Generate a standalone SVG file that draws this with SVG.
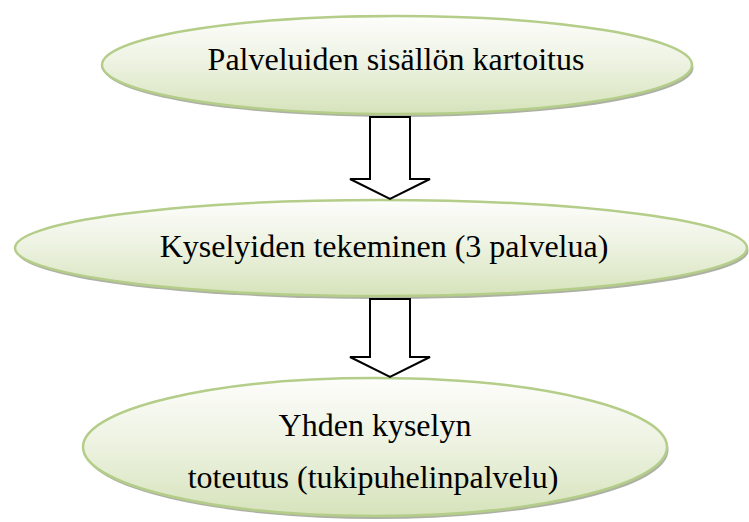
<svg xmlns="http://www.w3.org/2000/svg" width="749" height="522" viewBox="0 0 749 522">
<style>
.shadow{fill:#9fa394;opacity:0.85}
.node{fill:url(#g);stroke:#b4cd89;stroke-width:2.5}
.lbl{font-family:"Liberation Serif","Times New Roman",serif;font-size:32px;fill:#000;text-anchor:middle}
.arrow{fill:#fff;stroke:#000;stroke-width:2;stroke-linejoin:miter}
</style>
<defs>
<linearGradient id="g" x1="0" y1="0" x2="0" y2="1">
<stop offset="0" stop-color="#fdfdfb"/>
<stop offset="0.45" stop-color="#eef3e3"/>
<stop offset="1" stop-color="#d6e3bb"/>
</linearGradient>
</defs>
<rect width="749" height="522" fill="#fff"/>
<g id="node1">
<ellipse class="shadow" cx="398.5" cy="68" rx="295" ry="49"/>
<ellipse class="node" cx="397" cy="65" rx="295" ry="49"/>
<text class="lbl" x="396" y="70">Palveluiden sisällön kartoitus</text>
</g>
<g id="node2">
<ellipse class="shadow" cx="382.5" cy="251" rx="366" ry="48"/>
<ellipse class="node" cx="381" cy="248" rx="366" ry="48"/>
<text class="lbl" x="384" y="257">Kyselyiden tekeminen (3 palvelua)</text>
</g>
<g id="node3">
<ellipse class="shadow" cx="376.5" cy="450" rx="292" ry="69"/>
<ellipse class="node" cx="375" cy="447" rx="292" ry="69"/>
<text class="lbl" x="375" y="436">Yhden kyselyn</text>
<text class="lbl" x="373" y="488">toteutus (tukipuhelinpalvelu)</text>
</g>
<g id="connectors">
<polygon class="arrow" points="370,117 410,117 410,179 430,179 390,199 350,179 370,179"/>
<polygon class="arrow" points="370,299 410,299 410,357 430,357 390,377 350,357 370,357"/>
</g>
</svg>
